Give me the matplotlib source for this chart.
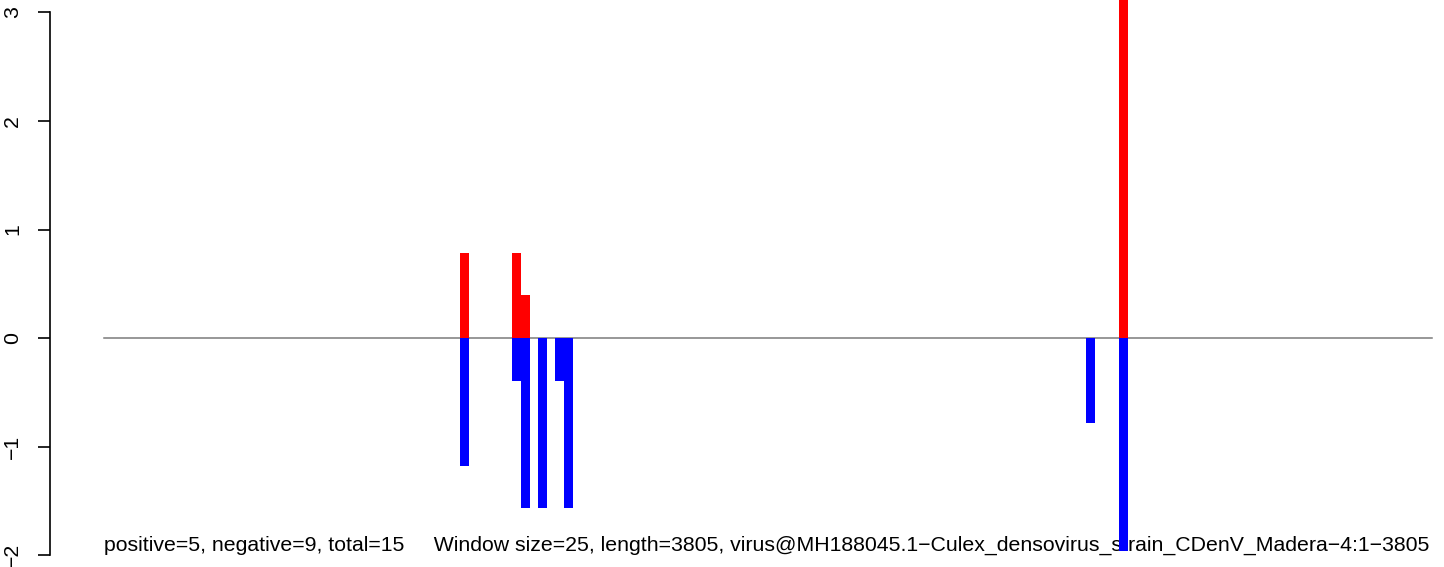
import matplotlib
matplotlib.use("Agg")
import matplotlib.pyplot as plt

# ---- data ----
seq_length = 3805
window_size = 25
pos_starts = [1020, 1169, 1195, 2908]
pos_values = [0.785, 0.785, 0.393, 3.5]
neg_starts = [1020, 1169, 1195, 1243, 1292, 1318, 2814, 2908]
neg_values = [-1.178, -0.393, -1.571, -1.571, -0.393, -1.571, -0.785, -1.963]
yticks = [-2, -1, 0, 1, 2, 3]
caption = ("positive=5, negative=9, total=15     Window size=25, length=3805, "
           "virus@MH188045.1\u2212Culex_densovirus_strain_CDenV_Madera\u22124:1\u22123805")

plt.rcParams['font.family'] = ['Liberation Sans', 'DejaVu Sans']

W, H = 1444, 567
fig = plt.figure(figsize=(W / 100, H / 100), dpi=100)
left_px = 50
ax = fig.add_axes([left_px / W, 0, 1 - left_px / W, 1])

# pixel mapping: x=0 -> 104 px, x=3805 -> 1432 px ; y=0 -> 338 px, 1 unit = 108.5 px
sx = (1432 - 104) / seq_length
x0 = 0 - (104 - left_px) / sx
x1 = seq_length + (W - 1432) / sx
ax.set_xlim(x0, x1)
sy = 108.5
ax.set_ylim(-(H - 338) / sy, 338 / sy)

ax.plot([0, seq_length], [0, 0], color='#7a7a7a', lw=1.1, zorder=2)
ax.bar(pos_starts, pos_values, width=window_size, align='edge', color='#ff0000',
       linewidth=0, zorder=4)
ax.bar(neg_starts, neg_values, width=window_size, align='edge', color='#0000ff',
       linewidth=0, zorder=4)

ax.text(0, -1.96, caption, fontsize=15.35, ha='left', va='baseline', zorder=3)

for s in ['top', 'right', 'bottom']:
    ax.spines[s].set_visible(False)
ax.spines['left'].set_bounds(-2, 3)
ax.spines['left'].set_linewidth(1.2)
ax.set_xticks([])
ax.set_yticks(yticks)
ax.set_yticklabels([str(v).replace('-', '\u2212') for v in yticks], rotation=90,
                   va='center', fontsize=15.35)
ax.tick_params(axis='y', length=9, width=1.2, pad=11)

fig.savefig('out.png', dpi=100)
